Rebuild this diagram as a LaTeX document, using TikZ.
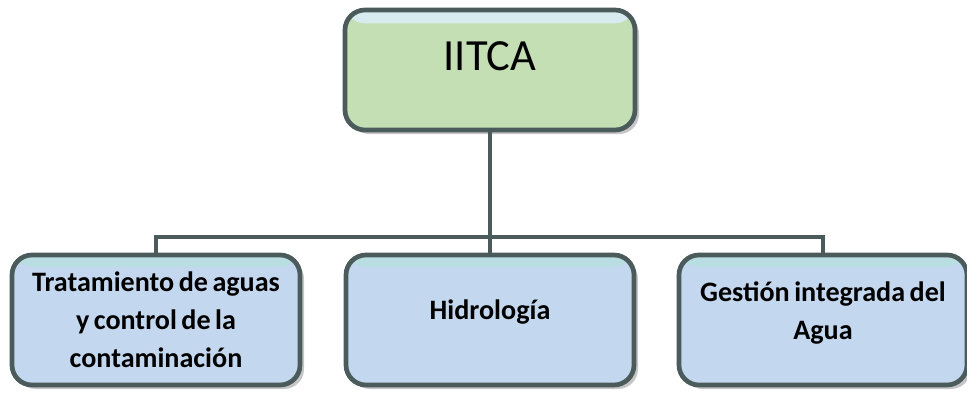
\documentclass[tikz,border=0pt]{standalone}
\usepackage{fontspec}
\setmainfont{Carlito}
\usetikzlibrary{shadows}
\definecolor{rahmen}{HTML}{4B5B5B}
\definecolor{gruen}{HTML}{C4DFB4}
\definecolor{blau}{HTML}{C3D7EE}
\definecolor{hellcyan}{HTML}{D8ECEF}
\definecolor{cyanband}{HTML}{B8DEE2}
\newcommand{\engsp}{\spaceskip=0.16em\relax}
\tikzset{
  kasten/.style={draw=rahmen,line width=4pt,rounded corners=0.6cm,
    drop shadow={shadow xshift=0.12cm,shadow yshift=-0.12cm,opacity=0.45,fill=gray},
    align=center,inner sep=0pt},
  oben/.style={kasten,fill=gruen,minimum width=8.7cm,minimum height=3.6cm,
    font=\fontsize{38}{42}\selectfont,
    path picture={\fill[hellcyan] (path picture bounding box.north west) rectangle ([yshift=-0.4cm]path picture bounding box.north east);}},
  unten/.style={kasten,fill=blau,minimum width=8.64cm,minimum height=3.9cm,text width=8.4cm,
    font=\bfseries\fontsize{24}{32.5}\selectfont,
    path picture={\fill[cyanband] (path picture bounding box.north west) rectangle ([yshift=-0.35cm]path picture bounding box.north east);}},
  linie/.style={draw=rahmen,line width=3pt}
}
\begin{document}
\begin{tikzpicture}[x=0.03cm,y=-0.03cm]
\useasboundingbox (0,0) rectangle (967,396);
% Wurzel
\node[oben] (iitca) at (490,70) {\raisebox{0.85cm}{IITCA}};
% Bereiche
\node[unten] (trat) at (156,320) {\engsp Tratamiento de aguas\\y control de la\\contaminación};
\node[unten] (hidro) at (490,320) {\raisebox{0.6cm}{Hidrología}};
\node[unten] (gest) at (823,320) {\raisebox{1.15cm}{\parbox{8.4cm}{\centering\engsp Gestión integrada del\\Agua}}};
% Verbindungen
\coordinate (knick) at (490,237);
\draw[linie] (iitca.south) -- (knick);
\draw[linie] (trat.north) |- (knick) -| (gest.north);
\draw[linie] (knick) -- (hidro.north);
\end{tikzpicture}
\end{document}
